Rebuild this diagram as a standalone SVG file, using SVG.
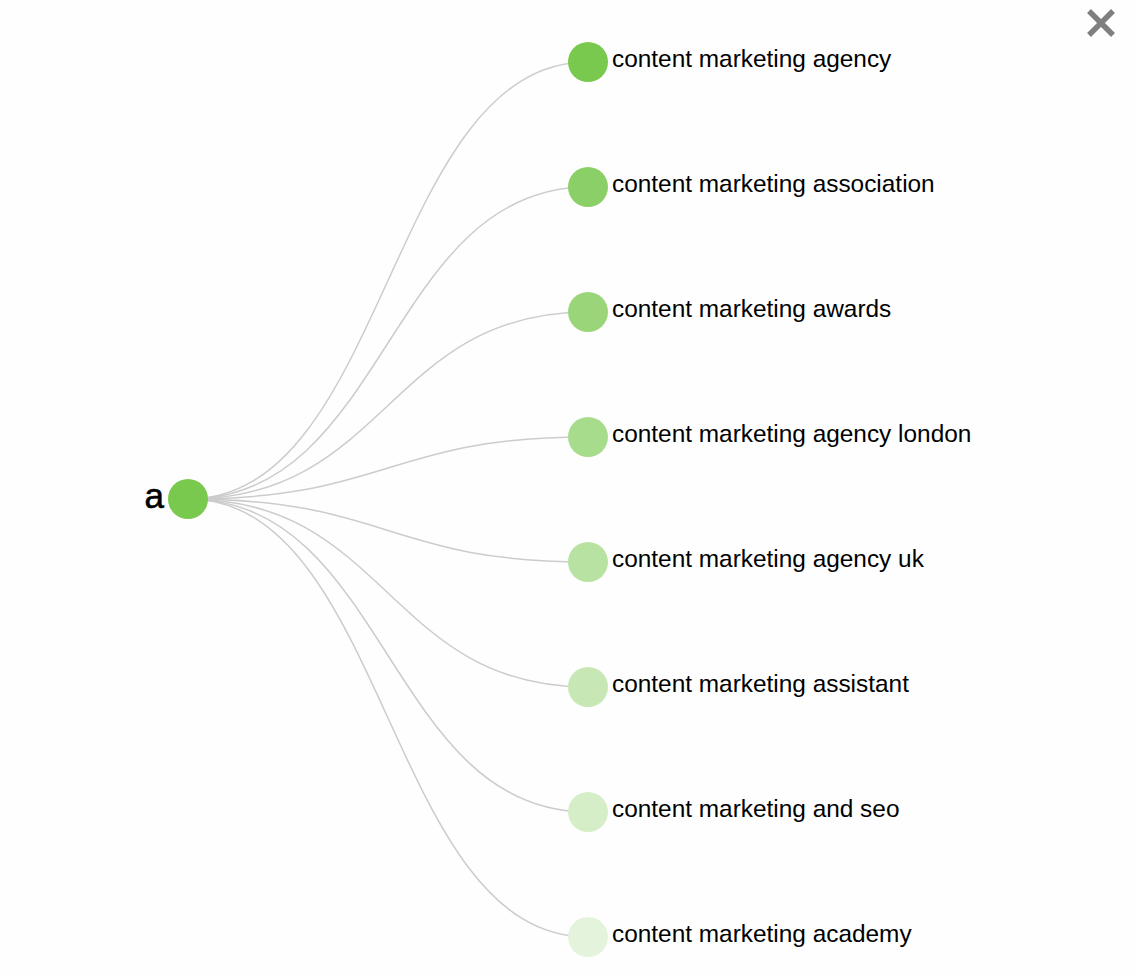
<svg xmlns="http://www.w3.org/2000/svg" width="1134" height="974" viewBox="0 0 1134 974">
<style>
.link{fill:none;stroke:#cccccc;stroke-width:1.5}
.lbl{font-family:"Liberation Sans",Arial,sans-serif;font-size:24.4px;fill:#000}
.root{font-family:"Liberation Sans",Arial,sans-serif;font-size:35px;fill:#000;stroke:#000;stroke-width:0.6}
.close{stroke:#7f7f7f;stroke-width:5.5;stroke-linecap:butt}
</style>
<rect width="1134" height="974" fill="#fefefe"/>
<g id="connectors">
<path class="link" d="M188,499C388,499 388,62 588,62"/>
<path class="link" d="M188,499C388,499 388,187 588,187"/>
<path class="link" d="M188,499C388,499 388,312 588,312"/>
<path class="link" d="M188,499C388,499 388,437 588,437"/>
<path class="link" d="M188,499C388,499 388,562 588,562"/>
<path class="link" d="M188,499C388,499 388,687 588,687"/>
<path class="link" d="M188,499C388,499 388,812 588,812"/>
<path class="link" d="M188,499C388,499 388,937 588,937"/>
</g>
<g id="root"><circle cx="188" cy="499" r="20" fill="#7ac94f"/><text class="root" x="164" y="508" text-anchor="end">a</text></g>
<g id="n1"><circle cx="588" cy="62" r="20" fill="#7ac94f"/><text class="lbl" x="612" y="67">content marketing agency</text></g>
<g id="n2"><circle cx="588" cy="187" r="20" fill="#8bd066"/><text class="lbl" x="612" y="192">content marketing association</text></g>
<g id="n3"><circle cx="588" cy="312" r="20" fill="#9ad679"/><text class="lbl" x="612" y="317">content marketing awards</text></g>
<g id="n4"><circle cx="588" cy="437" r="20" fill="#a8dc8d"/><text class="lbl" x="612" y="442">content marketing agency london</text></g>
<g id="n5"><circle cx="588" cy="562" r="20" fill="#b8e2a2"/><text class="lbl" x="612" y="567">content marketing agency uk</text></g>
<g id="n6"><circle cx="588" cy="687" r="20" fill="#c7e8b5"/><text class="lbl" x="612" y="692">content marketing assistant</text></g>
<g id="n7"><circle cx="588" cy="812" r="20" fill="#d6eec8"/><text class="lbl" x="612" y="817">content marketing and seo</text></g>
<g id="n8"><circle cx="588" cy="937" r="20" fill="#e4f4dc"/><text class="lbl" x="612" y="942">content marketing academy</text></g>
<g id="close"><path class="close" d="M1089,11L1113,35M1113,11L1089,35"/></g>
</svg>
